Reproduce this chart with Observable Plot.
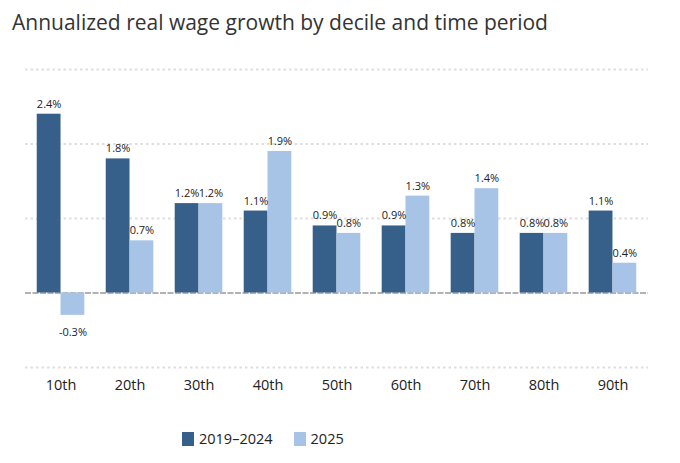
<!DOCTYPE html>
<html>
<head>
<meta charset="utf-8">
<script src="https://cdn.jsdelivr.net/npm/d3@7"></script>
<script src="https://cdn.jsdelivr.net/npm/@observablehq/plot@0.6"></script>
<style>
  html, body { margin: 0; padding: 0; background: #fff; }
  body { width: 680px; height: 463px; overflow: hidden; font-family: "Open Sans", Lato, sans-serif; }
  #title { height: 48px; padding-left: 12px; font-size: 21px; color: #333; line-height: 44px; }
  #legend { display: flex; align-items: center; gap: 21px; font-size: 14.5px; color: #222; margin-top: 16px; padding-left: 182px; }
  .item { display: flex; align-items: center; gap: 5px; }
  .sw { width: 12px; height: 14px; display: inline-block; }
</style>
</head>
<body>
<div id="title">Annualized real wage growth by decile and time period</div>
<div id="chart"></div>
<div id="legend"></div>
<script>
const deciles = ["10th","20th","30th","40th","50th","60th","70th","80th","90th"];
const seriesNames = ["2019–2024","2025"];
const values2019_2024 = [2.4,1.8,1.2,1.1,0.9,0.9,0.8,0.8,1.1];
const values2025 = [-0.3,0.7,1.2,1.9,0.8,1.3,1.4,0.8,0.4];
const colors = ["#36608a","#a7c4e6"];
const gridTicks = [-1,1,2,3];

const W = 680, H = 365, mT = 21, mB = 46, mL = 25, mR = 32;
const padIn = 0.31, padOut = 0.17;
// bandwidth of the decile band scale, used to split each band into two bars
const bw = d3.scaleBand(deciles, [mL, W - mR]).paddingInner(padIn).paddingOuter(padOut).bandwidth();
const half = bw / 2;

const first = deciles.map((d,i) => ({decile: d, series: seriesNames[0], value: values2019_2024[i]}));
const second = deciles.map((d,i) => ({decile: d, series: seriesNames[1], value: values2025[i]}));

const fmt = v => v.toFixed(1) + "%";
const labelSize = 11;

const chart = Plot.plot({
  width: W,
  height: H,
  marginTop: mT,
  marginBottom: mB,
  marginLeft: mL,
  marginRight: mR,
  style: {fontFamily: "'Open Sans', Lato, sans-serif", background: "#fff"},
  x: {domain: deciles, paddingInner: padIn, paddingOuter: padOut, round: false, label: null},
  y: {domain: [-1, 3], axis: null},
  color: {domain: seriesNames, range: colors},
  marks: [
    Plot.ruleY(gridTicks, {stroke: "#dedede", strokeWidth: 2, strokeDasharray: "2.5,3"}),
    Plot.ruleY([0], {stroke: "#999", strokeWidth: 1.3, strokeDasharray: "6,1.5"}),
    Plot.barY(first, {x: "decile", y: "value", fill: "series", insetRight: half}),
    Plot.barY(second, {x: "decile", y: "value", fill: "series", insetLeft: half}),
    Plot.text(first, {x: "decile", y: "value", text: d => fmt(d.value), dx: -half / 2, dy: -10, fontSize: labelSize, fill: "#222"}),
    Plot.text(second.filter(d => d.value >= 0), {x: "decile", y: "value", text: d => fmt(d.value), dx: half / 2, dy: -10, fontSize: labelSize, fill: "#222"}),
    Plot.text(second.filter(d => d.value < 0), {x: "decile", y: "value", text: d => fmt(d.value), dx: half / 2, dy: 17, fontSize: labelSize, fill: "#222"}),
    Plot.axisX({anchor: "bottom", tickSize: 0, tickPadding: 12, fontSize: 14.5, label: null, fill: "#222"})
  ]
});
document.getElementById("chart").appendChild(chart);

const legend = document.getElementById("legend");
seriesNames.forEach((s,i) => {
  const it = document.createElement("div");
  it.className = "item";
  const sw = document.createElement("span");
  sw.className = "sw";
  sw.style.background = colors[i];
  const t = document.createElement("span");
  t.textContent = s;
  it.appendChild(sw); it.appendChild(t);
  legend.appendChild(it);
});
</script>
</body>
</html>
